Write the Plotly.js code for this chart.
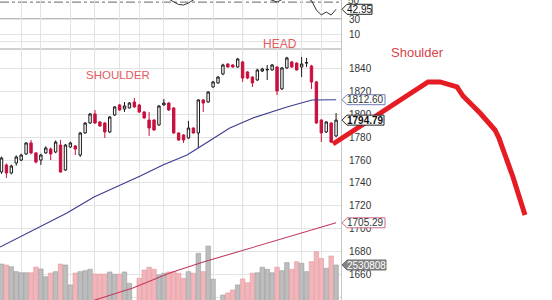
<!DOCTYPE html>
<html><head><meta charset="utf-8">
<script src="https://cdn.plot.ly/plotly-3.0.1.min.js"></script>
<style>html,body{margin:0;padding:0;background:#fff;}#chart{width:552px;height:300px;}</style>
</head><body><div id="chart"></div>
<script>
// ---- data ----
const days = [0,1,2,3,4,5,6,7,8,9,10,11,12,13,14,15,16,17,18,19,20,21,22,23,24,25,26,27,28,29,30,31,32,33,34,35,36,37,38,39,40,41,42,43,44,45,46,47,48,49,50,51,52,53,54,55,56,57,58,59,60,61,62,63,64,65,66,67,68];
const openP  = [1749.6,1755.7,1748.7,1757.4,1760.0,1765.3,1774.9,1766.2,1760.0,1766.2,1769.6,1767.0,1773.1,1751.3,1771.4,1772.3,1764.4,1783.6,1792.3,1800.2,1793.2,1792.3,1784.5,1799.3,1808.0,1804.5,1805.4,1810.6,1808.0,1801.9,1794.9,1794.9,1790.6,1808.0,1809.7,1805.4,1783.6,1781.8,1779.2,1787.9,1783.6,1812.4,1810.6,1823.7,1827.2,1835.0,1843.7,1842.9,1841.1,1845.5,1836.8,1832.4,1829.8,1837.6,1838.5,1838.5,1841.1,1822.0,1840.3,1845.5,1844.6,1841.1,1844.6,1842.0,1828.1,1794.9,1784.5,1792.3,1781.0];
const highP  = [1763.0,1757.0,1756.0,1764.0,1765.5,1775.5,1777.5,1767.0,1765.5,1772.0,1771.0,1777.0,1777.5,1774.0,1776.0,1773.0,1784.5,1793.0,1801.0,1803.6,1794.0,1793.0,1798.5,1807.0,1809.0,1810.6,1810.5,1814.1,1809.0,1802.5,1801.9,1795.5,1808.0,1813.2,1810.5,1806.0,1784.0,1782.5,1794.1,1788.5,1813.0,1813.0,1820.0,1829.0,1833.0,1844.0,1844.5,1843.5,1849.0,1846.5,1837.5,1833.0,1839.5,1840.5,1842.9,1843.7,1842.0,1841.0,1850.0,1846.5,1845.0,1849.9,1849.0,1843.0,1829.0,1795.5,1794.0,1793.0,1801.0];
const lowP   = [1748.0,1744.4,1747.5,1755.0,1759.0,1764.5,1765.0,1757.0,1755.7,1765.5,1760.0,1766.0,1749.0,1750.5,1770.5,1764.4,1762.7,1783.0,1791.5,1791.5,1789.0,1779.2,1783.5,1798.5,1803.0,1801.9,1805.0,1805.5,1801.0,1796.0,1781.0,1785.5,1790.0,1807.5,1803.0,1783.0,1776.8,1774.9,1778.5,1783.0,1770.5,1801.9,1810.0,1823.0,1826.5,1834.0,1840.5,1840.5,1840.5,1828.1,1830.5,1823.7,1829.0,1836.8,1829.8,1838.0,1816.7,1821.0,1839.5,1840.5,1838.0,1832.4,1841.1,1822.0,1791.5,1775.7,1783.5,1774.9,1780.0];
const closeP = [1761.8,1748.7,1754.8,1762.7,1764.4,1774.9,1766.2,1758.3,1764.4,1770.5,1765.3,1775.7,1749.6,1773.1,1774.9,1769.6,1783.6,1792.3,1800.2,1792.3,1789.7,1784.5,1797.5,1806.3,1803.6,1807.1,1809.7,1806.3,1801.9,1796.7,1787.9,1786.2,1807.1,1809.7,1803.6,1783.6,1777.5,1777.5,1787.9,1783.6,1812.4,1809.7,1819.3,1828.1,1832.4,1842.9,1841.1,1841.1,1848.1,1831.5,1831.5,1827.2,1838.5,1839.4,1839.0,1842.9,1820.2,1840.3,1849.0,1841.1,1838.5,1843.7,1844.9,1828.1,1792.3,1783.6,1793.2,1775.7,1794.79];
const volumeM = [2.59,2.53,2.42,2.11,2.04,2.04,2.04,2.40,2.28,1.79,2.02,2.11,2.59,2.53,1.27,2.02,2.11,2.17,2.26,1.96,1.96,1.96,2.09,1.94,1.96,2.09,1.37,0.25,1.69,2.21,2.39,2.26,1.90,2.01,2.09,2.11,2.01,1.69,2.11,2.01,3.27,2.11,3.73,1.63,0.25,0.63,0.76,0.95,1.27,1.65,1.41,2.01,2.04,2.39,2.26,2.04,2.39,2.17,2.68,2.26,2.74,2.64,2.11,2.74,3.37,2.95,2.32,3.10,2.530808];

const ma50Days = [-0.3,6.4,13.3,18.8,23.9,28.2,32.8,37.7,40.3,43.4,46.4,51.1,58.0,63.1,68];
const ma50Vals = [1684.2,1699.0,1713.8,1727.8,1737.4,1746.1,1755.7,1764.4,1771.4,1780.1,1787.9,1796.7,1806.3,1812.4,1812.60];
const ma200Days = [0,19,26.7,34.2,41,47.9,54.6,60.7,68];
const ma200Vals = [1614,1638.0,1648.5,1661.5,1671.1,1679.8,1688.5,1696.4,1705.29];

const oscDays = [28,29,30,31,32,33,34,35,36,37,38,39,40,41,42,43,44,45,46,47,48,49,50,51,52,53,54,55,56,57,58,59,60,61,62,63,64,65,66,67,68];
const oscVals = [70,68,66,64,62,59,56.5,52.7,49.3,48.7,51.3,55.5,60,64,68,72,74,76,76,75,74,71,68,64,62,60,57.5,55.5,52.5,56,60,62,63,62,58,54.5,42,35.3,39.3,35.3,42.95];

// hand-drawn projection (day index, price)
const sketchDays = [67.38,85.67,86.69,89.13,92.58,93.8,97.26,100.3,101.1,103.96,106.4];
const sketchVals = [1774.0,1826.3,1828.1,1828.1,1823.7,1815.8,1801.0,1786.2,1779.2,1745.2,1712.1];

const priceTicks = [1640,1660,1680,1700,1720,1740,1760,1780,1800,1820,1840];
const oscTicks = [30,10];
const gridDays = [4,8,14,19,24,28,33,38,43,49,56,61,65];
const monthLineDay = 49;
const lastClose = 1794.79, lastMa50 = 1812.60, lastMa200 = 1705.29, lastVol = 2530808, lastOsc = 42.95;

// ---- styling ----
const FONT = 'Arial, "Liberation Sans", sans-serif';
const xDomR = 341/552;
const priceTop = 251/300;
const UP = '#ffffff', DOWN = '#c8103e';
const volColors = closeP.map((c,i)=> c >= openP[i] ? '#bdbdbd' : '#f2b5ba');
const volLines  = closeP.map((c,i)=> c >= openP[i] ? '#9c9c9c' : '#e299a1');

const traces = [
  {type:'bar', x:days, y:volumeM, xaxis:'x', yaxis:'y', width:0.92,
   marker:{color:volColors, line:{color:volLines, width:0.6}}, hoverinfo:'skip'},
  {type:'candlestick', x:days, open:openP, high:highP, low:lowP, close:closeP, xaxis:'x', yaxis:'y3',
   increasing:{fillcolor:UP, line:{color:'#1a1a1a', width:1}},
   decreasing:{fillcolor:DOWN, line:{color:DOWN, width:1}}, whiskerwidth:0, hoverinfo:'skip'},
  {type:'scatter', mode:'lines', x:ma50Days, y:ma50Vals, xaxis:'x', yaxis:'y3',
   line:{color:'#3a3b8e', width:1.1}, hoverinfo:'skip'},
  {type:'scatter', mode:'lines', x:ma200Days, y:ma200Vals, xaxis:'x', yaxis:'y3',
   line:{color:'#c23a5c', width:1.1}, hoverinfo:'skip'},
  {type:'scatter', mode:'lines', x:oscDays, y:oscVals, xaxis:'x', yaxis:'y2',
   line:{color:'#333333', width:1}, hoverinfo:'skip'},
  {type:'scatter', mode:'lines', x:sketchDays, y:sketchVals, xaxis:'x3', yaxis:'y4',
   line:{color:'#e61c24', width:5}, hoverinfo:'skip'}
];

const axFont = {family:FONT, size:10, color:'#333'};
function tag(yref, yval, w, border, fill){
  return {type:'path', xref:'paper', yref:yref, xsizemode:'pixel', ysizemode:'pixel',
    xanchor:xDomR, yanchor:yval,
    path:`M1,0L6,-5L${w},-5L${w},5L6,5Z`, fillcolor:fill, line:{color:border, width:1}, layer:'above'};
}
function tagText(yref, yval, text, color, bold){
  return {xref:'paper', yref:yref, x:346/552, y:yval, xanchor:'left', yanchor:'middle', showarrow:false,
    text: bold ? '<b>'+text+'</b>' : text, font:{family:FONT, size:10, color:color}, borderpad:0};
}
function label(px, py, text, size, color){
  return {xref:'paper', yref:'paper', x:px/552, y:1-py/300, xanchor:'center', yanchor:'middle',
    showarrow:false, text:text, font:{family:FONT, size:size, color:color}};
}

const layout = {
  width:552, height:300, margin:{l:0,r:0,t:0,b:0},
  paper_bgcolor:'#ffffff', plot_bgcolor:'rgba(0,0,0,0)', showlegend:false,
  xaxis:{domain:[0,xDomR], range:[-0.305,69.0], anchor:'y', tickvals:gridDays, showticklabels:false, ticks:'',
    showgrid:true, gridcolor:'#e3e3e3', zeroline:false, showline:false, rangeslider:{visible:false}, fixedrange:true},
  yaxis:{domain:[0,priceTop], range:[0.316,16.2], visible:false, fixedrange:true},
  yaxis2:{domain:[priceTop,1], anchor:'x', side:'right', range:[-10,55.33], tickvals:oscTicks, ticktext:oscTicks.map(String),
    showgrid:true, gridcolor:'#e3e3e3', zeroline:false, showline:true, linecolor:'#c6c6c6',
    ticks:'outside', ticklen:5, tickcolor:'rgba(0,0,0,0)', tickfont:axFont, fixedrange:true},
  yaxis3:{overlaying:'y', anchor:'x', side:'right', range:[1638,1856.8], tickvals:priceTicks, ticktext:priceTicks.map(String),
    showgrid:true, gridcolor:'#e3e3e3', zeroline:false, showline:true, linecolor:'#c6c6c6',
    ticks:'outside', ticklen:5, tickcolor:'rgba(0,0,0,0)', tickfont:axFont, fixedrange:true},
  xaxis3:{domain:[0,1], range:[-0.305,111.89], anchor:'y4', visible:false, fixedrange:true},
  yaxis4:{domain:[0,priceTop], range:[1638,1856.8], anchor:'x3', visible:false, fixedrange:true},
  shapes:[
    {type:'line', xref:'x', yref:'paper', x0:monthLineDay, x1:monthLineDay, y0:0, y1:1, line:{color:'#a9a9a9', width:1}, layer:'below'},
    {type:'line', xref:'paper', yref:'paper', x0:0, x1:xDomR, y0:priceTop, y1:priceTop, line:{color:'#a3a3a3', width:1.2}, layer:'below'},
    {type:'line', xref:'paper', yref:'y2', x0:0, x1:xDomR, y0:30, y1:30, line:{color:'#a3a3a3', width:1.5}, layer:'below'},
    {type:'line', xref:'paper', yref:'y2', x0:0, x1:xDomR, y0:0, y1:0, line:{color:'#e3e3e3', width:1}, layer:'below'},
    {type:'line', xref:'paper', yref:'y2', x0:0, x1:xDomR, y0:52.5, y1:52.5, line:{color:'#666', width:1, dash:'dashdot'}, layer:'below'},
    tag('y2', lastOsc, 31, '#222', '#fff'),
    tag('y3', lastMa50, 44, '#6f7bb0', '#fff'),
    tag('y3', lastClose, 43, '#222', '#fff'),
    tag('y3', lastMa200, 44, '#c86b8a', '#fff'),
    tag('y', lastVol/1e6, 45, '#6e6e6e', '#858585')
  ],
  annotations:[
    tagText('y2', lastOsc, lastOsc.toFixed(2), '#111', false),
    tagText('y3', lastMa50, lastMa50.toFixed(2), '#333', false),
    tagText('y3', lastClose, lastClose.toFixed(2), '#111', true),
    tagText('y3', lastMa200, lastMa200.toFixed(2), '#333', false),
    tagText('y', lastVol/1e6, String(lastVol), '#ffffff', false),
    {xref:'paper', yref:'paper', x:346/552, y:1, xanchor:'left', yanchor:'middle', showarrow:false, text:'50', font:axFont},
    label(118, 75, 'SHOULDER', 11.5, '#e35b5e'),
    label(280, 44, 'HEAD', 12, '#e35b5e'),
    label(417, 52, 'Shoulder', 13, '#d8434b')
  ]
};

Plotly.newPlot('chart', traces, layout, {displayModeBar:false, staticPlot:true});
</script>
</body></html>
